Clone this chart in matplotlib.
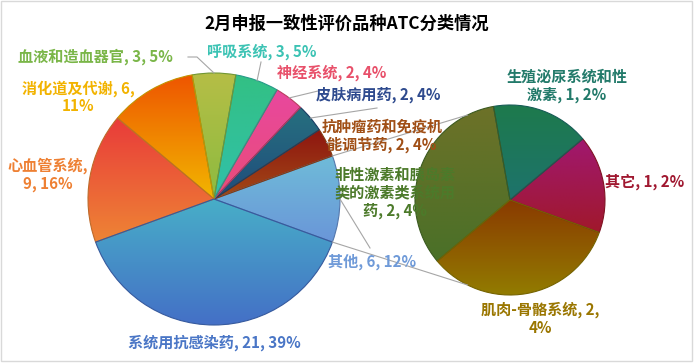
import matplotlib
matplotlib.use('Agg')
import matplotlib.pyplot as plt
import matplotlib.colors as mcolors
from matplotlib.patches import Rectangle
import numpy as np

plt.rcParams['font.family'] = ['Noto Sans CJK SC', 'DejaVu Sans']

W, H = 694, 363

# ---- data ----
title = '2月申报一致性评价品种ATC分类情况'

main_names = ['其他', '抗肿瘤药和免疫机能调节药', '皮肤病用药', '神经系统', '呼吸系统',
              '血液和造血器官', '消化道及代谢', '心血管系统', '系统用抗感染药']
main_values = [6, 2, 2, 2, 3, 3, 6, 9, 21]
main_pcts = ['12%', '4%', '4%', '4%', '5%', '5%', '11%', '16%', '39%']

sub_names = ['其它', '生殖泌尿系统和性激素', '非性激素和胰岛素类的激素类系统用药', '肌肉-骨骼系统']
sub_values = [1, 1, 2, 2]
sub_pcts = ['2%', '2%', '4%', '4%']

# ---- styling ----
# gradient fills: (top colour, bottom colour)
main_fill = [('#6fbcd9', '#6a96d8'), ('#8e1510', '#a24a16'), ('#27707f', '#1f4c7c'),
             ('#e9489e', '#e84c78'), ('#33c084', '#31c0aa'), ('#b5be46', '#8dbb40'),
             ('#ee5500', '#f2b600'), ('#e93b3a', '#ee8435'), ('#48aec8', '#4470c6')]
sub_fill = [('#a11870', '#a0182c'), ('#1e7a4c', '#1d736c'), ('#6d7228', '#4a7028'),
            ('#8a3a00', '#927c00')]

text_color = {
    '其他': '#6f9ad8', '抗肿瘤药和免疫机能调节药': '#a04f16', '皮肤病用药': '#2e4a8e',
    '神经系统': '#e8506a', '呼吸系统': '#3cc3b4', '血液和造血器官': '#7ab648',
    '消化道及代谢': '#f2b300', '心血管系统': '#ee8033', '系统用抗感染药': '#4a76c6',
    '其它': '#a01830', '生殖泌尿系统和性激素': '#227a6a',
    '非性激素和胰岛素类的激素类系统用药': '#4c7a2a', '肌肉-骨骼系统': '#9a7600',
}

# label centre (pixels from top-left), text template, wrap width of the name
label_layout = {
    '其他': (372, 262, '{n}, {v}, {p}', 0),
    '抗肿瘤药和免疫机能调节药': (382, 136, '{n}, {v}, {p}', 8),
    '皮肤病用药': (378, 95, '{n}, {v}, {p}', 0),
    '神经系统': (332, 73, '{n}, {v}, {p}', 0),
    '呼吸系统': (262, 52, '{n}, {v}, {p}', 0),
    '血液和造血器官': (95, 57, '{n}, {v}, {p}', 0),
    '消化道及代谢': (78, 97, '{n}, {v},\n{p}', 0),
    '心血管系统': (48, 175, '{n},\n{v}, {p}', 0),
    '系统用抗感染药': (214, 343, '{n}, {v}, {p}', 0),
    '其它': (645, 182, '{n}, {v}, {p}', 0),
    '生殖泌尿系统和性激素': (567, 86, '{n}, {v}, {p}', 8),
    '非性激素和胰岛素类的激素类系统用药': (395, 193, '{n}, {v}, {p}', 8),
    '肌肉-骨骼系统': (540, 319, '{n}, {v},\n{p}', 0),
}

# leader line waypoints after the slice edge (pixels)
leaders = {
    '血液和造血器官': [(197, 57), (188, 57)],
    '呼吸系统': [(261, 62)],
    '神经系统': [(318, 91)],
    '皮肤病用药': [(377, 108)],
    '抗肿瘤药和免疫机能调节药': [(342, 146)],
    '其他': [(370, 248)],
}

main_center, main_r = (214, 199), 126
sub_center, sub_r = (510, 200), 95
start = -20
line_gray = '#a6a6a6'


def px(x, y):
    return x, H - y


def gradient_fill(ax, wedge, top, bottom):
    verts = wedge.get_path().vertices
    x0, y0 = verts.min(axis=0)
    x1, y1 = verts.max(axis=0)
    c0 = np.array(mcolors.to_rgb(top))
    c1 = np.array(mcolors.to_rgb(bottom))
    t = np.linspace(0, 1, 64)[:, None]
    img = (c0 * (1 - t) + c1 * t)[:, None, :]
    im = ax.imshow(img, extent=(x0, x1, y0, y1), origin='upper', aspect='auto',
                   interpolation='bilinear', zorder=1)
    im.set_clip_path(wedge)


def label_text(name, v, p, tmpl, wrap):
    if wrap:
        name = '\n'.join(name[i:i + wrap] for i in range(0, len(name), wrap))
    return tmpl.format(n=name, v=v, p=p)


fig = plt.figure(figsize=(W / 100, H / 100), dpi=100)
ax = fig.add_axes([0, 0, 1, 1])


def draw_pie(values, names, pcts, fills, center, r):
    wedges, _ = ax.pie(values, startangle=start, counterclock=True, radius=r,
                       center=px(*center), frame=False)
    for w, (top, bottom), name, v, p in zip(wedges, fills, names, values, pcts):
        w.set_facecolor('none')
        w.set_edgecolor(np.array(mcolors.to_rgb(bottom)) * 0.8)
        w.set_linewidth(0.8)
        w.set_zorder(2)
        gradient_fill(ax, w, top, bottom)

        x, y, tmpl, wrap = label_layout[name]
        ax.text(*px(x, y), label_text(name, v, p, tmpl, wrap), ha='center', va='center',
                multialignment='center', fontsize=10.9, fontweight='bold',
                color=text_color[name], linespacing=1.12, zorder=5)

        if name in leaders:
            mid = np.deg2rad((w.theta1 + w.theta2) / 2)
            cx, cy = px(*center)
            pts = [(cx + r * np.cos(mid), cy + r * np.sin(mid))]
            pts += [px(*q) for q in leaders[name]]
            xs, ys = zip(*pts)
            ax.plot(xs, ys, color=line_gray, lw=0.8, zorder=3)
    return wedges


main_wedges = draw_pie(main_values, main_names, main_pcts, main_fill, main_center, main_r)
draw_pie(sub_values, sub_names, sub_pcts, sub_fill, sub_center, sub_r)

# connector lines from the "其他" slice to the secondary pie
other = main_wedges[0]
mcx, mcy = px(*main_center)
scx, scy = px(*sub_center)
for ang, sub_ang in [(other.theta2, 116.5), (other.theta1, 243.5)]:
    a, b = np.deg2rad(ang), np.deg2rad(sub_ang)
    ax.plot([mcx + main_r * np.cos(a), scx + sub_r * np.cos(b)],
            [mcy + main_r * np.sin(a), scy + sub_r * np.sin(b)],
            color=line_gray, lw=0.8, zorder=3)

ax.text(*px(347, 24), title, ha='center', va='center', fontsize=12.4,
        fontweight='bold', color='black')

ax.add_patch(Rectangle(px(1, 361), 691, 360, fill=False, edgecolor='#d9d9d9', lw=1))

ax.set_xlim(0, W)
ax.set_ylim(0, H)
ax.set_aspect('auto')
ax.axis('off')

fig.savefig('out.png', dpi=100)
